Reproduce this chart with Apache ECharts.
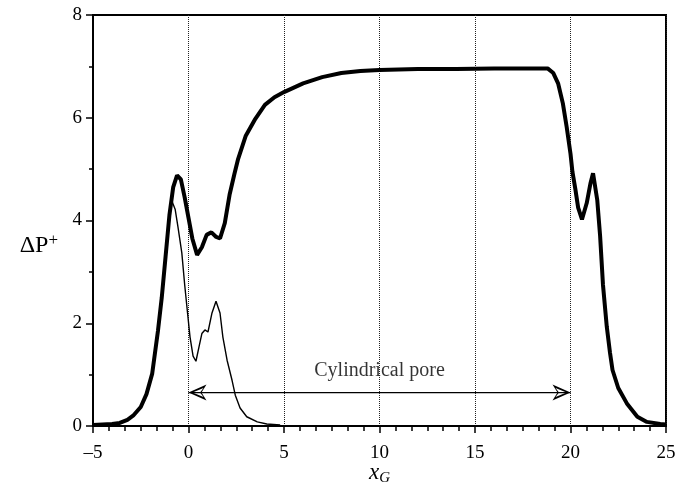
<!DOCTYPE html>
<html>
<head>
<meta charset="utf-8">
<script src="https://cdn.jsdelivr.net/npm/echarts@6/dist/echarts.min.js"></script>
<style>
  html, body { margin: 0; padding: 0; background: #fff; }
  #chart { width: 676px; height: 488px; }
</style>
</head>
<body>
<div id="chart"></div>
<script>
// thick curve: total pressure drop along the pore axis
const thickX = [-5, -4.5, -4, -3.6, -3.2, -2.9, -2.5, -2.2, -1.9, -1.6, -1.4, -1.2, -1.0, -0.8, -0.6, -0.4, -0.2, 0.0,
  0.2, 0.45, 0.7, 0.95, 1.2, 1.45, 1.65, 1.9, 2.15, 2.4, 2.6, 3.0, 3.5, 4.0, 4.5, 5.0, 6.0, 7.0, 8.0, 9.0, 10.0,
  12.0, 14.0, 16.0, 18.0, 18.8, 19.1, 19.35, 19.6, 19.8, 20.0, 20.1, 20.25, 20.4, 20.6, 20.85, 21.05, 21.18,
  21.4, 21.55, 21.7, 21.9, 22.07, 22.2, 22.5, 22.95, 23.5, 24.0, 24.7, 25.0];
const thickY = [0.02, 0.03, 0.04, 0.06, 0.12, 0.2, 0.37, 0.62, 1.02, 1.85, 2.5, 3.3, 4.1, 4.65, 4.88, 4.8, 4.45, 4.05,
  3.65, 3.33, 3.48, 3.72, 3.77, 3.68, 3.65, 3.95, 4.5, 4.9, 5.2, 5.65, 5.98, 6.25, 6.4, 6.5, 6.67, 6.79, 6.87, 6.91, 6.93,
  6.95, 6.95, 6.96, 6.96, 6.96, 6.87, 6.67, 6.28, 5.82, 5.3, 4.95, 4.62, 4.25, 4.02, 4.34, 4.73, 4.92,
  4.4, 3.7, 2.75, 1.93, 1.42, 1.09, 0.74, 0.44, 0.18, 0.08, 0.04, 0.03];

// thin curve: entrance contribution
const thinX = [-5, -4.5, -4, -3.6, -3.2, -2.9, -2.5, -2.2, -1.9, -1.6, -1.4, -1.2, -1.0, -0.87, -0.7, -0.55, -0.35,
  -0.2, -0.05, 0.08, 0.24, 0.39, 0.55, 0.7, 0.86, 1.02, 1.23, 1.44, 1.65, 1.8, 2.02, 2.28, 2.45, 2.7, 3.05, 3.6, 4.1, 4.8];
const thinY = [0.02, 0.03, 0.04, 0.06, 0.12, 0.2, 0.37, 0.62, 1.02, 1.85, 2.5, 3.3, 4.1, 4.38, 4.22, 3.87, 3.37,
  2.75, 2.2, 1.73, 1.36, 1.26, 1.54, 1.8, 1.87, 1.83, 2.2, 2.43, 2.2, 1.73, 1.28, 0.89, 0.6, 0.35, 0.18, 0.08, 0.04, 0.02];

// pore annotation
const poreStart = 0;
const poreEnd = 20;
const arrowY = 0.65;
const poreLabel = 'Cylindrical pore';
const labelPos = [10, 1.08];

const serif = '"Liberation Serif", "DejaVu Serif", serif';
// hollow arrow head, tip pointing up
const hollowArrow = 'path://M8,0 L16,18 L8,13 L0,18 Z M8,4 L3.5,15 L8,11.5 L12.5,15 Z';
const headLen = 18;

const zip = (xs, ys) => xs.map((x, i) => [x, ys[i]]);

const chart = echarts.init(document.getElementById('chart'));
chart.setOption({
  animation: false,
  grid: {
    left: 93, right: 10, top: 15, bottom: 62,
    outerBoundsMode: 'none',
    show: true, borderColor: '#000', borderWidth: 2
  },
  xAxis: {
    type: 'value',
    min: -5, max: 25, interval: 5,
    name: '{x|x}{sub|G}',
    nameLocation: 'middle',
    nameGap: 33,
    nameMoveOverlap: false,
    nameTextStyle: {
      rich: {
        x: { fontFamily: serif, fontStyle: 'italic', fontSize: 23, color: '#000' },
        sub: { fontFamily: serif, fontStyle: 'italic', fontSize: 15, color: '#000', padding: [12, 0, 0, 0] }
      }
    },
    axisLine: { onZero: false, lineStyle: { color: '#000', width: 2 } },
    axisTick: { length: 7, lineStyle: { color: '#000', width: 1.5 } },
    minorTick: { show: true, splitNumber: 6, length: 5, lineStyle: { color: '#000', width: 1.5 } },
    axisLabel: {
      margin: 18, color: '#000', fontFamily: serif, fontSize: 19,
      formatter: v => (v < 0 ? '\u2013' + (-v) : String(v))
    },
    splitLine: { show: true, lineStyle: { color: '#222', type: 'dotted', width: 1 } }
  },
  yAxis: {
    type: 'value',
    min: 0, max: 8, interval: 2,
    name: 'ΔP{sup|+}',
    nameLocation: 'middle',
    nameRotate: 0,
    nameGap: 35,
    nameMoveOverlap: false,
    nameTextStyle: {
      fontFamily: serif, fontSize: 24, color: '#000',
      padding: [50, 0, 0, 0],
      rich: { sup: { fontFamily: serif, fontSize: 17, color: '#000', padding: [0, 0, 10, 0] } }
    },
    axisLine: { onZero: false, lineStyle: { color: '#000', width: 2 } },
    axisTick: { length: 7, lineStyle: { color: '#000', width: 1.5 } },
    minorTick: { show: true, splitNumber: 2, length: 4, lineStyle: { color: '#000', width: 1.5 } },
    axisLabel: { margin: 11, color: '#000', fontFamily: serif, fontSize: 19 },
    splitLine: { show: false }
  },
  series: [
    {
      type: 'line',
      data: zip(thinX, thinY),
      showSymbol: false,
      lineStyle: { color: '#000', width: 1.4 },
      z: 3
    },
    {
      type: 'line',
      data: zip(thickX, thickY),
      showSymbol: false,
      lineStyle: { color: '#000', width: 4 },
      z: 4
    },
    {
      // double-headed arrow spanning the pore
      type: 'line',
      data: [
        { value: [poreStart, arrowY], symbolRotate: 90, symbolOffset: [headLen / 2, 0] },
        { value: [poreEnd, arrowY], symbolRotate: -90, symbolOffset: [-headLen / 2, 0] }
      ],
      symbol: hollowArrow,
      symbolSize: [16, headLen],
      showSymbol: true,
      showAllSymbol: true,
      itemStyle: { color: '#000' },
      lineStyle: { color: '#000', width: 1.3 },
      silent: true,
      z: 5
    },
    {
      type: 'scatter',
      data: [labelPos],
      symbolSize: 0,
      label: {
        show: true, position: 'inside', formatter: poreLabel,
        color: '#000', fontFamily: serif, fontSize: 20
      },
      silent: true,
      z: 5
    }
  ]
});
</script>
</body>
</html>
